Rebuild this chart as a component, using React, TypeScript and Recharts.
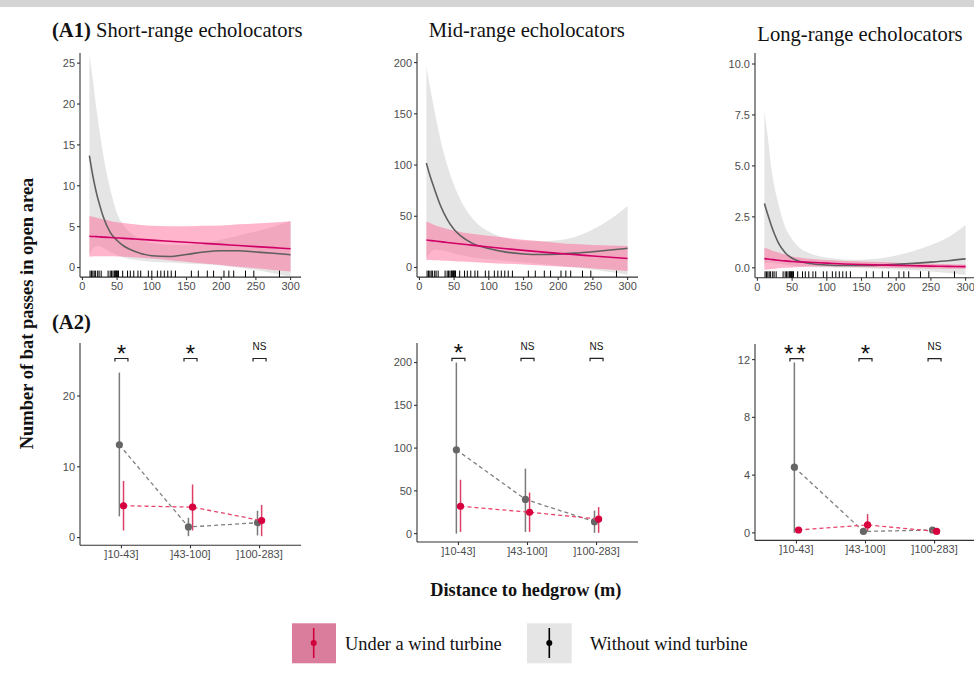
import React from 'react';
import { ComposedChart, Area, Line, Scatter, XAxis, YAxis, ErrorBar } from 'recharts';

// ---------- Data (A1): fitted curves read at these distances (m) ----------
const xGrid = [10, 15, 20, 25, 30, 40, 50, 60, 75, 100, 125, 150, 175, 200, 225, 250, 275, 300];

const shortWithoutFit = [13.7, 11.2, 9.2, 7.6, 6.2, 4.3, 3.3, 2.6, 2.0, 1.45, 1.35, 1.6, 1.9, 2.05, 2.05, 1.9, 1.75, 1.57];
const shortWithoutLo = [1.6, 2.3, 2.6, 2.6, 2.4, 1.9, 1.5, 1.2, 0.95, 0.7, 0.6, 0.5, 0.4, 0.25, 0.0, -0.3, -0.7, -1.1];
const shortWithoutHi = [26, 23, 19.5, 16.5, 13.8, 9.6, 6.6, 5.1, 3.9, 3.0, 2.8, 2.8, 3.0, 3.4, 3.9, 4.4, 5.0, 5.7];
const shortUnderFit = [3.83, 3.8, 3.78, 3.75, 3.72, 3.67, 3.62, 3.57, 3.49, 3.35, 3.22, 3.09, 2.96, 2.83, 2.69, 2.56, 2.43, 2.3];
const shortUnderLo = [1.33, 1.35, 1.37, 1.38, 1.38, 1.37, 1.35, 1.32, 1.27, 1.1, 0.9, 0.7, 0.48, 0.3, 0.08, -0.1, -0.3, -0.5];
const shortUnderHi = [6.3, 6.2, 6.1, 6.0, 5.9, 5.7, 5.55, 5.45, 5.3, 5.1, 5.05, 5.05, 5.1, 5.15, 5.3, 5.4, 5.5, 5.65];

const midWithoutFit = [102, 90, 80, 70, 61, 47, 37, 30.5, 24, 18.5, 15, 13.2, 12.6, 13.0, 14.0, 15.4, 17, 18.7];
const midWithoutLo = [9, 14, 17, 17.5, 17, 15.5, 13.5, 12, 10, 8, 6.5, 5, 3.5, 2, 0, -2, -4.5, -7];
const midWithoutHi = [197, 177, 159, 142, 126, 100, 80, 65, 49, 35, 28.5, 26, 25.5, 26.5, 30, 37, 47, 60];
const midUnderFit = [26.8, 26.4, 26.0, 25.6, 25.2, 24.4, 23.6, 22.9, 21.8, 20.0, 18.3, 16.7, 15.2, 13.8, 12.5, 11.2, 9.9, 8.7];
const midUnderLo = [7.4, 7.3, 7.1, 7.0, 6.8, 6.5, 6.1, 5.8, 5.3, 4.4, 3.6, 2.8, 1.9, 1.0, 0.1, -0.9, -2.1, -3.5];
const midUnderHi = [45, 43.5, 42, 40.5, 39.5, 37.5, 36, 34.5, 33, 31, 29, 27, 25.5, 24, 22.8, 22, 21.5, 21];

const longWithoutFit = [3.16, 2.6, 2.08, 1.62, 1.24, 0.74, 0.47, 0.32, 0.21, 0.14, 0.11, 0.11, 0.13, 0.17, 0.22, 0.28, 0.35, 0.44];
const longWithoutLo = [0.2, 0.25, 0.25, 0.22, 0.2, 0.15, 0.1, 0.07, 0.04, 0.02, 0.0, -0.02, -0.05, -0.08, -0.12, -0.18, -0.26, -0.35];
const longWithoutHi = [7.7, 6.4, 4.9, 3.9, 3.16, 2.0, 1.4, 1.0, 0.72, 0.5, 0.41, 0.4, 0.46, 0.6, 0.83, 1.12, 1.5, 2.1];
const longUnderFit = [0.45, 0.43, 0.41, 0.39, 0.37, 0.34, 0.31, 0.29, 0.27, 0.23, 0.19, 0.16, 0.14, 0.12, 0.1, 0.085, 0.07, 0.06];
const longUnderLo = [-0.1, -0.08, -0.06, -0.04, -0.02, 0.0, 0.02, 0.04, 0.06, 0.07, 0.06, 0.04, 0.02, 0.0, -0.02, -0.03, -0.04, -0.05];
const longUnderHi = [1.0, 0.93, 0.86, 0.8, 0.75, 0.65, 0.56, 0.5, 0.44, 0.38, 0.34, 0.31, 0.28, 0.25, 0.22, 0.2, 0.18, 0.16];

const rugDistances = [11, 13, 15, 17, 19, 22, 24, 27, 37, 40, 42, 44, 46, 47, 48, 49, 50, 51, 52, 58, 65, 69, 74, 80, 84, 95, 100, 108, 113, 118, 123, 128, 134, 157, 167, 180, 189, 204, 211, 218, 235, 247, 284];

// ---------- Data (A2): means with CI by distance class ----------
const distanceClasses = [']10-43]', ']43-100]', ']100-283]'];

const shortWithoutMean = [13.1, 1.5, 2.1];
const shortWithoutLow = [3.0, 0.2, 0.3];
const shortWithoutHigh = [23.3, 2.8, 3.8];
const shortUnderMean = [4.5, 4.3, 2.4];
const shortUnderLow = [1.0, 1.0, 0.2];
const shortUnderHigh = [8.0, 7.5, 4.6];
const shortSignif = ['*', '*', 'NS'];

const midWithoutMean = [98, 40, 14];
const midWithoutLow = [0, 2, 1];
const midWithoutHigh = [200, 76, 27];
const midUnderMean = [32, 25, 17];
const midUnderLow = [2, 2, 1];
const midUnderHigh = [63, 48, 31];
const midSignif = ['*', 'NS', 'NS'];

const longWithoutMean = [4.55, 0.1, 0.2];
const longWithoutLow = [0, 0, 0.1];
const longWithoutHigh = [11.8, 0.3, 0.3];
const longUnderMean = [0.2, 0.55, 0.1];
const longUnderLow = [0.1, 0.1, 0.05];
const longUnderHigh = [0.4, 1.3, 0.2];
const longSignif = ['**', '*', 'NS'];

// ---------- helpers ----------
const SANS = 'Liberation Sans, Arial, sans-serif';
const SERIF = 'Liberation Serif, Times New Roman, serif';
const TICK = { fill: '#4d4d4d', fontSize: 11, fontFamily: SANS };
const AXIS = { stroke: '#333', strokeWidth: 1.1 };

function buildCurves(gFit: number[], gLo: number[], gHi: number[], pFit: number[], pLo: number[], pHi: number[]) {
  return xGrid.map((x, i) => ({ x, gFit: gFit[i], gBand: [gLo[i], gHi[i]], pFit: pFit[i], pBand: [pLo[i], pHi[i]] }));
}

function buildMeans(mean: number[], lo: number[], hi: number[], shift: number) {
  return mean.map((m, i) => ({ x: i + 1 + shift, y: m, err: [m - lo[i], hi[i] - m] }));
}

const RugTick = (props: any) => {
  const { cx, cy } = props;
  return <line x1={cx} x2={cx} y1={cy} y2={cy - 6.5} stroke="#000" strokeWidth={1} />;
};

const Bracket = (props: any) => {
  const { cx, cy, payload } = props;
  const isStar = payload.label !== 'NS';
  return (
    <g>
      <path d={`M${cx - 6.5},${cy + 3}V${cy}H${cx + 6.5}V${cy + 3}`} stroke="#222" fill="none" strokeWidth={1.2} />
      <text
        x={cx}
        y={isStar ? cy + 3 : cy - 8.4}
        textAnchor="middle"
        fontSize={isStar ? 24 : 10}
        letterSpacing={isStar && payload.label.length > 1 ? 3 : 0}
        fontFamily={SANS}
        fill="#111"
      >
        {payload.label}
      </text>
    </g>
  );
};

const GrayDot = (props: any) => <circle cx={props.cx} cy={props.cy} r={3.6} fill="#666666" />;
const RedDot = (props: any) => <circle cx={props.cx} cy={props.cy} r={3.6} fill="#D6003F" />;

const PW = 221;

function CurvePanel(p: { left: number; top: number; h: number; domain: number[]; ticks: number[]; dec?: boolean; data: any[] }) {
  const W = 50 + PW + 10;
  const H = 10 + p.h + 30;
  const rugData = rugDistances.map((d) => ({ x: d, y: p.domain[0] }));
  return (
    <div style={{ position: 'absolute', left: p.left - 50, top: p.top - 10, width: W, height: H }}>
      <ComposedChart width={W} height={H} data={p.data} margin={{ top: 10, right: 10, bottom: 0, left: 0 }}>
        <XAxis dataKey="x" type="number" domain={[-3.5, 315]} allowDataOverflow ticks={[0, 50, 100, 150, 200, 250, 300]} interval={0}
          height={30} tickSize={3} tickMargin={2} axisLine={AXIS} tickLine={AXIS} tick={TICK} />
        <YAxis type="number" domain={p.domain} allowDataOverflow ticks={p.ticks} interval={0} width={50} tickSize={3} tickMargin={2}
          axisLine={AXIS} tickLine={AXIS} tick={TICK} tickFormatter={(v: number) => (p.dec ? v.toFixed(1) : String(v))} />
        <Area dataKey="gBand" type="monotone" stroke="none" fill="#BEBEBE" fillOpacity={0.4} isAnimationActive={false} dot={false} activeDot={false} />
        <Area dataKey="pBand" type="monotone" stroke="none" fill="#FF5C8F" fillOpacity={0.45} isAnimationActive={false} dot={false} activeDot={false} />
        <Line dataKey="gFit" type="monotone" stroke="#5f5f5f" strokeWidth={1.6} dot={false} activeDot={false} isAnimationActive={false} />
        <Line dataKey="pFit" type="monotone" stroke="#D10068" strokeWidth={1.6} dot={false} activeDot={false} isAnimationActive={false} />
        <Scatter data={rugData} dataKey="y" shape={RugTick} isAnimationActive={false} />
      </ComposedChart>
    </div>
  );
}

function MeansPanel(p: {
  left: number; top: number; h: number; domain: number[]; ticks: number[];
  without: any[]; under: any[]; sig: string[]; sigY: number;
}) {
  const W = 50 + PW + 10;
  const H = 10 + p.h + 30;
  const sigData = p.sig.map((s, i) => ({ x: i + 1, y: p.sigY, label: s }));
  return (
    <div style={{ position: 'absolute', left: p.left - 50, top: p.top - 10, width: W, height: H }}>
      <ComposedChart width={W} height={H} margin={{ top: 10, right: 10, bottom: 0, left: 0 }} style={{ overflow: 'visible' }}>
        <XAxis dataKey="x" type="number" domain={[0.4, 3.6]} ticks={[1, 2, 3]} interval={0}
          tickFormatter={(v: number) => distanceClasses[v - 1]} height={30} tickSize={3} tickMargin={2}
          axisLine={AXIS} tickLine={AXIS} tick={TICK} />
        <YAxis type="number" domain={p.domain} ticks={p.ticks} interval={0} width={50} tickSize={3} tickMargin={2}
          axisLine={AXIS} tickLine={AXIS} tick={TICK} />
        <Scatter data={sigData} dataKey="y" shape={Bracket} isAnimationActive={false} />
        <Scatter data={p.without} dataKey="y" shape={GrayDot} isAnimationActive={false} lineType="joint"
          line={{ stroke: '#808080', strokeWidth: 1.3, strokeDasharray: '4 3' }}>
          <ErrorBar dataKey="err" direction="y" width={0} stroke="#7a7a7a" strokeWidth={1.5} />
        </Scatter>
        <Scatter data={p.under} dataKey="y" shape={RedDot} isAnimationActive={false} lineType="joint"
          line={{ stroke: '#E8456C', strokeWidth: 1.3, strokeDasharray: '4 3' }}>
          <ErrorBar dataKey="err" direction="y" width={0} stroke="#DD3F66" strokeWidth={1.5} />
        </Scatter>
      </ComposedChart>
    </div>
  );
}

export default function App() {
  const dg = -0.03;
  const dr = 0.03;
  return (
    <div style={{ position: 'absolute', left: 0, top: 0, width: 974, height: 681, overflow: 'hidden', background: '#fff' }}>
      <div style={{ position: 'absolute', left: 0, top: 0, width: 974, height: 7, background: '#d4d4d4' }} />

      <CurvePanel left={80} top={53.3} h={224.1} domain={[-1.17, 26.24]} ticks={[0, 5, 10, 15, 20, 25]}
        data={buildCurves(shortWithoutFit, shortWithoutLo, shortWithoutHi, shortUnderFit, shortUnderLo, shortUnderHi)} />
      <CurvePanel left={417.3} top={53.3} h={224.1} domain={[-9.4, 209.4]} ticks={[0, 50, 100, 150, 200]}
        data={buildCurves(midWithoutFit, midWithoutLo, midWithoutHi, midUnderFit, midUnderLo, midUnderHi)} />
      <CurvePanel left={755} top={53.3} h={224.8} domain={[-0.49, 10.54]} ticks={[0, 2.5, 5, 7.5, 10]} dec
        data={buildCurves(longWithoutFit, longWithoutLo, longWithoutHi, longUnderFit, longUnderLo, longUnderHi)} />

      <MeansPanel left={80} top={342.7} h={202.3} domain={[-1.09, 27.49]} ticks={[0, 10, 20]}
        without={buildMeans(shortWithoutMean, shortWithoutLow, shortWithoutHigh, dg)}
        under={buildMeans(shortUnderMean, shortUnderLow, shortUnderHigh, dr)} sig={shortSignif} sigY={25.3} />
      <MeansPanel left={417.3} top={342.7} h={199} domain={[-9.8, 222.9]} ticks={[0, 50, 100, 150, 200]}
        without={buildMeans(midWithoutMean, midWithoutLow, midWithoutHigh, dg)}
        under={buildMeans(midUnderMean, midUnderLow, midUnderHigh, dr)} sig={midSignif} sigY={205} />
      <MeansPanel left={755} top={344.3} h={196.4} domain={[-0.52, 13.08]} ticks={[0, 4, 8, 12]}
        without={buildMeans(longWithoutMean, longWithoutLow, longWithoutHigh, dg)}
        under={buildMeans(longUnderMean, longUnderLow, longUnderHigh, dr)} sig={longSignif} sigY={12.07} />

      <svg width={974} height={681} style={{ position: 'absolute', left: 0, top: 0, pointerEvents: 'none' }}>
        <g fontFamily={SERIF} fill="#111">
          <text x={52} y={37} fontSize={20.6}>
            <tspan fontWeight="bold">(A1)</tspan> Short-range echolocators
          </text>
          <text x={526.7} y={37.3} fontSize={20.6} textAnchor="middle">Mid-range echolocators</text>
          <text x={860} y={40.5} fontSize={20.6} textAnchor="middle">Long-range echolocators</text>
          <text x={52} y={329.3} fontSize={20.6} fontWeight="bold">(A2)</text>
          <text x={32.5} y={313.5} fontSize={18.5} fontWeight="bold" textAnchor="middle" transform="rotate(-90 32.5 313.5)">
            Number of bat passes in open area
          </text>
          <text x={525.8} y={595.7} fontSize={18.3} fontWeight="bold" textAnchor="middle">Distance to hedgrow (m)</text>
          <text x={345} y={650} fontSize={18.4}>Under a wind turbine</text>
          <text x={590} y={650} fontSize={18.4}>Without wind turbine</text>
        </g>
        <rect x={292} y={623.3} width={44} height={40} fill="#DA7C9C" />
        <line x1={313.7} x2={313.7} y1={628} y2={658} stroke="#D0003A" strokeWidth={1.6} />
        <circle cx={313.7} cy={643} r={3} fill="#D0003A" />
        <rect x={527} y={623.3} width={44.7} height={40} fill="#E5E5E5" />
        <line x1={549.3} x2={549.3} y1={628} y2={658} stroke="#000" strokeWidth={1.6} />
        <circle cx={549.3} cy={643} r={3} fill="#000" />
      </svg>
    </div>
  );
}
